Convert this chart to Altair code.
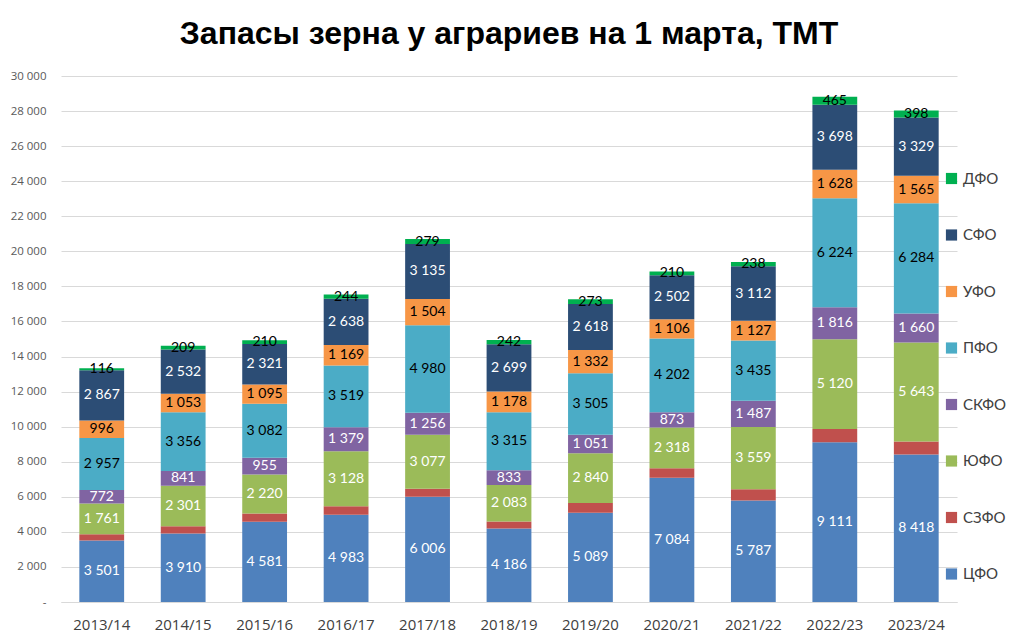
import altair as alt
import pandas as pd

seasons = ["2013/14", "2014/15", "2015/16", "2016/17", "2017/18", "2018/19",
           "2019/20", "2020/21", "2021/22", "2022/23", "2023/24"]
regions = ["ЦФО", "СЗФО", "ЮФО", "СКФО", "ПФО", "УФО", "СФО", "ДФО"]
colors = ["#4F81BD", "#C0504D", "#9BBB59", "#8064A2", "#4BACC6", "#F79646", "#2C4D75", "#00B050"]
text_colors = ["white", "white", "white", "white", "black", "black", "white", "black"]

cfo = [3501, 3910, 4581, 4983, 6006, 4186, 5089, 7084, 5787, 9111, 8418]
szfo = [360, 415, 465, 480, 460, 410, 560, 550, 640, 760, 735]
yufo = [1761, 2301, 2220, 3128, 3077, 2083, 2840, 2318, 3559, 5120, 5643]
skfo = [772, 841, 955, 1379, 1256, 833, 1051, 873, 1487, 1816, 1660]
pfo = [2957, 3356, 3082, 3519, 4980, 3315, 3505, 4202, 3435, 6224, 6284]
ufo = [996, 1053, 1095, 1169, 1504, 1178, 1332, 1106, 1127, 1628, 1565]
sfo = [2867, 2532, 2321, 2638, 3135, 2699, 2618, 2502, 3112, 3698, 3329]
dfo = [116, 209, 210, 244, 279, 242, 273, 210, 238, 465, 398]

series = [cfo, szfo, yufo, skfo, pfo, ufo, sfo, dfo]

rows = []
for i, (reg, vals) in enumerate(zip(regions, series)):
    for s, v in zip(seasons, vals):
        rows.append({"season": s, "region": reg, "value": v, "ord": i,
                     "tcolor": text_colors[i], "show": reg != "СЗФО"})
df = pd.DataFrame(rows)

legend_order = regions[::-1]
legend_colors = colors[::-1]

base = alt.Chart(df).transform_stack(
    stack="value", groupby=["season"], as_=["y0", "y1"],
    sort=[alt.SortField("ord", order="ascending")]
).transform_calculate(
    ymid="(datum.y0 + datum.y1) / 2",
    label="replace(format(datum.value, ','), ',', ' ')"
)

x_axis = alt.Axis(labelAngle=0, labelFontSize=15, labelColor="#404040",
                  labelFont="Open Sans", ticks=False, labelPadding=15,
                  domainColor="#D9D9D9", grid=False)
y_axis = alt.Axis(values=list(range(0, 30001, 2000)), labelFontSize=11.5,
                  labelColor="#595959", labelFont="Open Sans",
                  ticks=False, domain=False, gridColor="#D9D9D9",
                  labelPadding=15, labelOverlap=False,
                  labelExpr="datum.value == 0 ? '-' : replace(format(datum.value, ','), ',', ' ')")
x_scale = alt.Scale(paddingInner=0.45, paddingOuter=0.225)
y_scale = alt.Scale(domain=[0, 30000])

bars = base.mark_bar().encode(
    x=alt.X("season:N", sort=seasons, title=None, scale=x_scale, axis=x_axis),
    y=alt.Y("y0:Q", title=None, scale=y_scale, axis=y_axis),
    y2="y1:Q",
    color=alt.Color("region:N", scale=alt.Scale(domain=legend_order, range=legend_colors),
                    title=None,
                    legend=alt.Legend(orient="none", legendX=883, legendY=95,
                                      symbolType="square", symbolSize=125,
                                      symbolStrokeWidth=0,
                                      labelFontSize=15, labelColor="#404040",
                                      labelFont="Lato", rowPadding=40.5,
                                      labelOffset=4)),
)

texts = base.transform_filter("datum.show").mark_text(
    fontSize=14, font="Lato", baseline="middle"
).encode(
    x=alt.X("season:N", sort=seasons, title=None, scale=x_scale, axis=x_axis),
    y=alt.Y("ymid:Q", title=None, scale=y_scale, axis=y_axis),
    text="label:N",
    color=alt.Color("tcolor:N", scale=None),
)

chart = alt.layer(bars, texts).properties(
    width=896, height=526,
    title=alt.TitleParams("Запасы зерна у аграриев на 1 марта, ТМТ",
                          fontSize=32, font="Liberation Sans", fontWeight="bold",
                          color="black", anchor="middle", offset=19),
    padding={"left": 53, "top": 68, "right": 51, "bottom": 34},
    autosize=alt.AutoSizeParams(type="none"),
).configure_view(stroke=None)

chart.save("out.html", embed_options={"renderer": "svg", "actions": False})
